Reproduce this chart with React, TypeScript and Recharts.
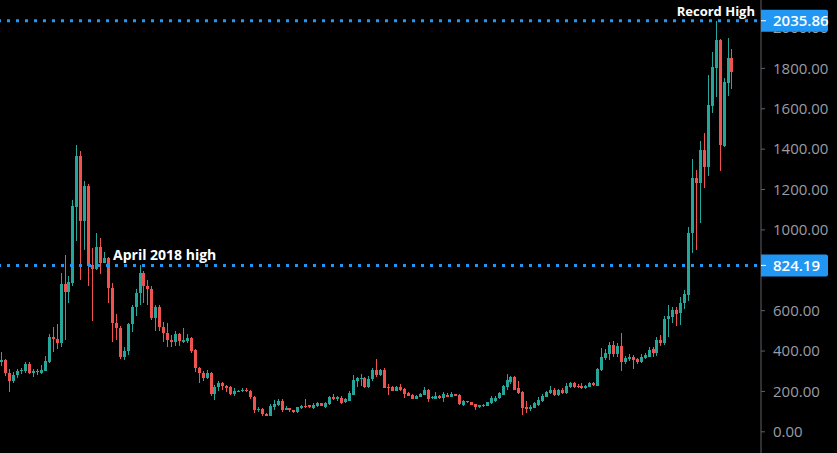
import React from 'react';
import { ComposedChart, Bar, XAxis, YAxis, ReferenceLine } from 'recharts';

// Weekly ETH/USD candles, week starting 2017-08-28 through 2021-03-15
const opens: number[] = [
  345, 356, 293, 254, 282, 300, 302, 336, 290, 302, 292, 303, 348, 472, 462, 440, 730, 694, 735, 1115,
  1366, 1044, 1217, 826, 806, 915, 838, 862, 714, 537, 512, 372, 400, 532, 620, 686, 785, 722, 706, 562,
  620, 517, 491, 455, 446, 484, 446, 452, 466, 405, 315, 293, 268, 293, 187, 220, 243, 228, 220, 185,
  200, 202, 208, 200, 171, 106, 112, 88, 80, 122, 135, 154, 110, 116, 108, 99, 116, 128, 131, 118,
  128, 141, 125, 138, 174, 160, 169, 148, 154, 182, 253, 263, 265, 220, 260, 306, 281, 306, 220, 223,
  202, 223, 212, 194, 182, 162, 174, 182, 207, 166, 162, 179, 169, 182, 174, 186, 182, 133, 151, 148,
  138, 124, 130, 129, 141, 153, 166, 182, 223, 248, 273, 218, 199, 124, 113, 119, 133, 154, 174, 191,
  207, 182, 207, 191, 220, 243, 227, 227, 215, 223, 243, 227, 306, 364, 385, 430, 385, 425, 347, 359,
  372, 359, 347, 364, 372, 409, 392, 455, 441, 557, 570, 603, 587, 636, 677, 983, 1258, 1231, 1396, 1313,
  1614, 1800, 1940, 1416, 1729, 1850,
];
const highs: number[] = [
  396, 360, 312, 297, 312, 315, 348, 345, 312, 312, 330, 374, 482, 520, 534, 785, 874, 772, 1150, 1420,
  1390, 1240, 1225, 912, 985, 962, 890, 867, 737, 583, 525, 420, 540, 628, 706, 824.19, 795, 752, 720, 628,
  630, 545, 540, 480, 500, 488, 513, 485, 471, 410, 320, 303, 305, 297, 232, 253, 245, 232, 225, 215,
  206, 218, 215, 207, 175, 124, 116, 95, 137, 157, 160, 160, 128, 120, 110, 124, 134, 161, 134, 141,
  146, 144, 148, 178, 187, 176, 175, 165, 203, 281, 273, 286, 272, 275, 316, 360, 312, 315, 235, 225,
  228, 237, 215, 195, 187, 182, 190, 222, 210, 177, 198, 182, 199, 192, 195, 188, 186, 158, 155, 150,
  140, 135, 138, 148, 177, 175, 195, 230, 286, 278, 276, 252, 203, 154, 135, 150, 172, 186, 200, 227,
  215, 210, 215, 242, 245, 247, 238, 240, 232, 248, 245, 315, 413, 410, 446, 450, 440, 488, 375, 385,
  378, 365, 385, 390, 418, 418, 470, 479, 575, 628, 620, 620, 670, 700, 1016, 1350, 1297, 1440, 1481, 1767,
  1883, 2035.86, 1945, 1750, 1950, 1895,
];
const lows: number[] = [
  325, 276, 199, 243, 268, 285, 290, 285, 270, 280, 285, 300, 340, 397, 410, 420, 455, 640, 720, 945,
  752, 900, 724, 549, 800, 780, 835, 640, 446, 455, 360, 358, 379, 496, 573, 628, 638, 628, 555, 501,
  501, 446, 421, 420, 425, 425, 440, 440, 392, 298, 243, 250, 262, 177, 157, 203, 208, 199, 180, 175,
  195, 195, 196, 162, 92, 97, 78, 78, 78, 108, 128, 100, 106, 100, 95, 95, 112, 118, 116, 113,
  124, 126, 120, 135, 158, 154, 140, 143, 153, 180, 223, 227, 218, 218, 252, 273, 275, 215, 182, 200,
  200, 203, 166, 175, 161, 160, 172, 180, 150, 160, 160, 164, 149, 172, 172, 175, 133, 126, 142, 132,
  108, 118, 125, 127, 140, 150, 160, 180, 207, 236, 205, 187, 83, 95, 105, 118, 130, 150, 170, 188,
  178, 178, 185, 188, 218, 215, 215, 210, 212, 220, 228, 225, 300, 355, 356, 370, 370, 303, 335, 350,
  309, 335, 340, 360, 370, 372, 375, 425, 430, 471, 540, 524, 530, 610, 650, 884, 900, 1036, 1206, 1267,
  1578, 1660, 1293, 1410, 1663, 1700,
];
const closes: number[] = [
  356, 293, 254, 282, 300, 307, 336, 290, 300, 295, 305, 349, 472, 460, 440, 730, 694, 742, 1118, 1366,
  1044, 1217, 821, 806, 915, 838, 862, 714, 537, 512, 372, 400, 532, 620, 686, 785, 722, 706, 562, 620,
  517, 491, 455, 446, 484, 448, 455, 466, 402, 315, 293, 268, 293, 187, 220, 243, 228, 218, 185, 204,
  203, 209, 200, 170, 110, 112, 86, 80, 128, 140, 154, 110, 118, 106, 99, 121, 128, 121, 121, 134,
  141, 129, 144, 174, 161, 170, 144, 160, 191, 257, 265, 268, 220, 260, 306, 281, 306, 218, 216, 202,
  223, 207, 187, 179, 162, 179, 187, 207, 162, 170, 179, 166, 186, 174, 187, 179, 137, 151, 147, 134,
  124, 133, 134, 146, 166, 166, 191, 227, 257, 270, 207, 191, 116, 113, 124, 141, 157, 177, 196, 207,
  182, 207, 191, 227, 240, 220, 220, 215, 227, 243, 232, 311, 372, 389, 430, 385, 425, 347, 364, 372,
  355, 347, 372, 380, 405, 389, 455, 441, 557, 573, 603, 583, 639, 682, 983, 1258, 1234, 1396, 1313, 1619,
  1808, 1940, 1420, 1734, 1850, 1780,
];

const priceTicks: number[] = [0, 200, 400, 600, 800, 1000, 1200, 1400, 1600, 1800, 2000];
const recordHigh = 2035.86;
const april2018High = 824.19;

const firstWeek = Date.UTC(2017, 7, 28);
const weeks: string[] = opens.map((_, i) =>
  new Date(firstWeek + i * 7 * 86400000).toISOString().slice(0, 10)
);

const data = weeks.map((week, i) => ({
  week,
  open: opens[i],
  high: highs[i],
  low: lows[i],
  close: closes[i],
}));

const UP = '#26a69a';
const DOWN = '#ef5350';
const BLUE = '#2196f3';
const FONT = '"Open Sans", "DejaVu Sans", sans-serif';

const Candle = (props: any) => {
  const { x, y, width, height, payload } = props;
  if (!payload || y == null || height == null) return null;
  const { open, close, high, low } = payload;
  const top = Math.min(y, y + height);
  const h = Math.abs(height);
  const ratio = high - low > 0 ? h / (high - low) : 0;
  const py = (v: number) => top + (high - v) * ratio;
  const color = close >= open ? UP : DOWN;
  const cx = x + width / 2;
  const left = Math.round(cx - 1.5);
  const bTop = Math.round(py(Math.max(open, close)));
  const bBot = Math.round(py(Math.min(open, close)));
  const wTop = Math.round(top);
  const wBot = Math.round(top + h);
  return (
    <g shapeRendering="crispEdges">
      <rect x={left + 1} y={wTop} width={1} height={Math.max(1, wBot - wTop)} fill={color} />
      <rect x={left} y={bTop} width={3} height={Math.max(1, bBot - bTop)} fill={color} />
    </g>
  );
};

const PriceTag = (props: any) => {
  const { viewBox, price, note, noteX, noteAnchor, noteSize } = props;
  if (!viewBox) return null;
  const ly = viewBox.y;
  const axisX = viewBox.x + viewBox.width;
  return (
    <g>
      <path
        d={`M${axisX},${ly - 11} h65 a2,2 0 0 1 2,2 v18 a2,2 0 0 1 -2,2 h-65 z`}
        fill={BLUE}
      />
      <line x1={axisX} x2={axisX + 5} y1={ly} y2={ly} stroke="#ffffff" strokeWidth={1} />
      <text
        x={axisX + 12}
        y={ly}
        dy="0.36em"
        fill="#ffffff"
        fontSize={15}
        fontFamily={FONT}
        fontWeight={600}
      >
        {price}
      </text>
      <text
        x={viewBox.x + noteX}
        y={ly - 5}
        textAnchor={noteAnchor}
        fill="#ffffff"
        fontSize={noteSize}
        fontFamily={FONT}
        fontWeight={700}
      >
        {note}
      </text>
    </g>
  );
};

export default function App() {
  return (
    <div
      style={{
        position: 'absolute',
        left: 0,
        top: 0,
        width: 837,
        height: 453,
        background: '#000000',
        overflow: 'hidden',
      }}
    >
      <ComposedChart
        width={837}
        height={453}
        data={data}
        margin={{ top: 0, right: 0, bottom: 0, left: 0 }}
        barCategoryGap="10%"
      >
        <XAxis dataKey="week" hide padding={{ left: 0, right: 27 }} />
        <YAxis
          orientation="right"
          type="number"
          width={76}
          domain={[-105, 2138.7]}
          allowDataOverflow
          ticks={priceTicks}
          interval={0}
          tickFormatter={(v: number) => v.toFixed(2)}
          axisLine={{ stroke: '#5f6068' }}
          tickLine={{ stroke: '#5f6068' }}
          tickSize={4}
          tickMargin={8}
          tick={{ fill: '#9a9ca4', fontSize: 15, fontFamily: FONT }}
        />
        <Bar
          dataKey={(d: any) => [d.low, d.high]}
          shape={<Candle />}
          isAnimationActive={false}
        />
        <ReferenceLine
          y={april2018High}
          stroke={BLUE}
          strokeWidth={3}
          strokeDasharray="3 6"
          strokeDashoffset={5}
          zIndex={3000}
          label={<PriceTag price={april2018High.toFixed(2)} note="April 2018 high" noteX={113} noteAnchor="start" noteSize={14} />}
        />
        <ReferenceLine
          y={recordHigh}
          stroke={BLUE}
          strokeWidth={3}
          strokeDasharray="3 6"
          strokeDashoffset={5}
          zIndex={3000}
          label={<PriceTag price={recordHigh.toFixed(2)} note="Record High" noteX={755} noteAnchor="end" noteSize={13} />}
        />
      </ComposedChart>
    </div>
  );
}
